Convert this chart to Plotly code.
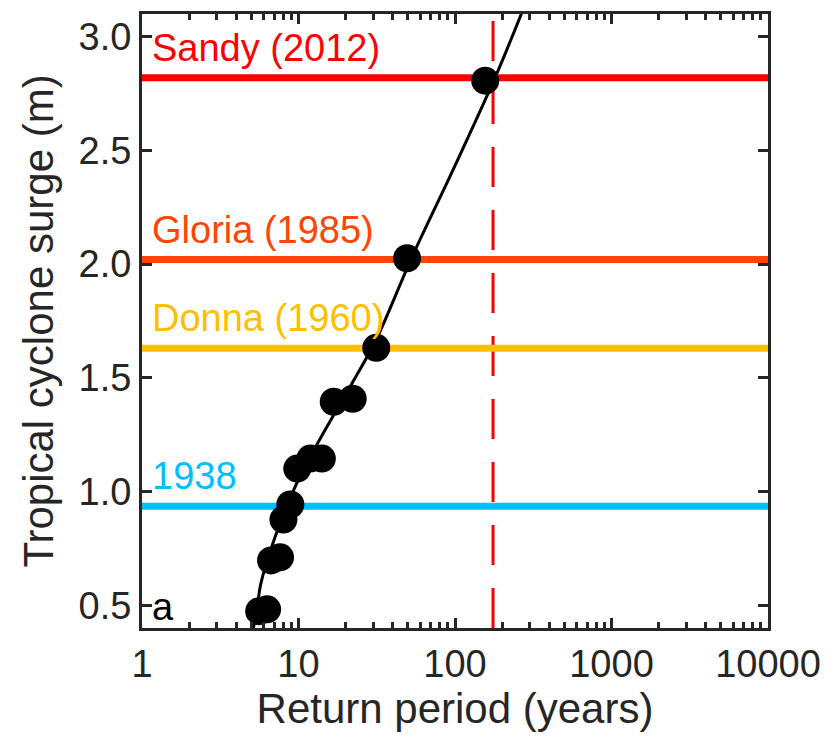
import plotly.graph_objects as go
import math

# ---- data ----
obs_return_period = [5.61, 6.30, 6.68, 7.62, 8.01, 8.87, 9.82, 11.9, 14.1, 16.8, 22.2, 31.4, 49.4, 156]
obs_surge = [0.474, 0.482, 0.697, 0.711, 0.877, 0.943, 1.101, 1.145, 1.145, 1.395, 1.408, 1.632, 2.026, 2.807]

fit_return_period = [5.10, 5.45, 5.73, 7.03, 9.40, 13.1, 21.9, 31.5, 53.1, 98, 178, 267]
fit_surge = [0.386, 0.49, 0.592, 0.794, 1.013, 1.206, 1.474, 1.671, 2.031, 2.42, 2.811, 3.105]

storm_names = ["Sandy (2012)", "Gloria (1985)", "Donna (1960)", "1938"]
storm_surge = [2.82, 2.02, 1.63, 0.935]
storm_colors = ["#ff0000", "#ff4500", "#ffbf00", "#00bfff"]

sandy_return_period = 175

x_ticks = [1, 10, 100, 1000, 10000]
x_ticktext = ["1", "10", "100", "1000", "10000"]
y_ticks = [0.5, 1.0, 1.5, 2.0, 2.5, 3.0]
x_range = [1, 10000]
y_range = [0.4, 3.1]

minor_ticks = [m * 10 ** d for d in range(4) for m in range(2, 10)]

FONT = "Liberation Sans, Arial, Helvetica, sans-serif"
AXC = "#262626"

fig = go.Figure()

# vertical dashed line at Sandy's return period
fig.add_trace(go.Scatter(
    x=[sandy_return_period, sandy_return_period], y=y_range,
    mode="lines", line=dict(color="#ff0000", width=3, dash="40px,23px"),
    hoverinfo="skip", showlegend=False))

# horizontal storm lines
for name, s, c in zip(storm_names, storm_surge, storm_colors):
    fig.add_trace(go.Scatter(
        x=x_range, y=[s, s], mode="lines",
        line=dict(color=c, width=7), name=name, showlegend=False))

# fitted curve
fig.add_trace(go.Scatter(
    x=fit_return_period, y=fit_surge, mode="lines",
    line=dict(color="black", width=3, shape="spline", smoothing=1.0),
    showlegend=False))

# observations
fig.add_trace(go.Scatter(
    x=obs_return_period, y=obs_surge, mode="markers",
    marker=dict(color="black", size=28, line=dict(width=0)),
    showlegend=False))

# storm labels
for name, s, c in zip(storm_names, storm_surge, storm_colors):
    fig.add_annotation(
        x=0.012, xref="paper", y=s, yref="y", text=name, showarrow=False,
        xanchor="left", yanchor="bottom", yshift=7,
        font=dict(family=FONT, size=38, color=c))

fig.add_annotation(
    x=0.012, xref="paper", y=0.5, yref="y", text="a", showarrow=False,
    xanchor="left", yanchor="middle", yshift=-2,
    font=dict(family=FONT, size=38, color="black"))

fig.update_layout(
    width=832, height=736,
    margin=dict(l=142, r=52, t=11, b=108),
    paper_bgcolor="white", plot_bgcolor="white",
    font=dict(family=FONT, color=AXC),
    showlegend=False,
)

fig.update_xaxes(
    type="log", range=[math.log10(x_range[0]), math.log10(x_range[1])],
    tickvals=x_ticks, ticktext=x_ticktext, ticklabeloverflow="allow",
    ticks="inside", ticklen=10, tickwidth=2.5, tickcolor=AXC,
    minor=dict(tickvals=minor_ticks, ticks="inside", ticklen=6, tickwidth=2.5, tickcolor=AXC, showgrid=False),
    showline=True, linewidth=3, linecolor=AXC, mirror="ticks",
    showgrid=False, zeroline=False,
    tickfont=dict(family=FONT, size=38, color=AXC),
    title=dict(text="Return period (years)", font=dict(family=FONT, size=42, color=AXC), standoff=8),
)
fig.update_yaxes(
    range=y_range, tickvals=y_ticks, tickformat=".1f",
    ticks="inside", ticklen=10, tickwidth=2.5, tickcolor=AXC,
    showline=True, linewidth=3, linecolor=AXC, mirror="ticks",
    showgrid=False, zeroline=False,
    tickfont=dict(family=FONT, size=38, color=AXC),
    title=dict(text="Tropical cyclone surge (m)", font=dict(family=FONT, size=42, color=AXC), standoff=12),
)

fig.write_html("out.html")
